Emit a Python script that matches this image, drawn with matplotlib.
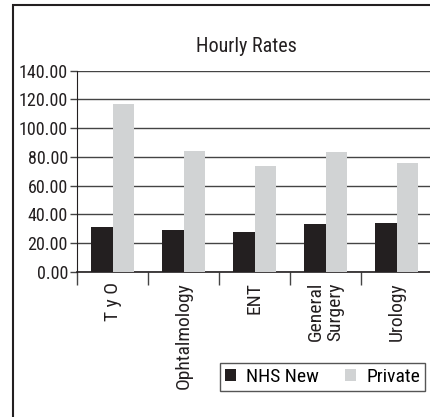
import matplotlib
matplotlib.use("Agg")
import matplotlib.pyplot as plt
import numpy as np
from matplotlib.patches import Rectangle

categories = ["T y O", "Ophtalmology", "ENT", "General\nSurgery", "Urology"]
nhs_new = [31.3, 29.2, 27.8, 33.3, 34.0]
private = [116.7, 84.2, 73.6, 83.3, 75.7]
yticks = [0, 20, 40, 60, 80, 100, 120, 140]

FONT = ["Roboto Condensed", "Archivo Narrow", "DejaVu Sans"]
plt.rcParams["font.family"] = FONT

W, H = 430, 417
fig = plt.figure(figsize=(W / 100, H / 100), dpi=100)
ax = fig.add_axes([77 / W, (H - 272) / H, 355 / W, (272 - 70.7) / H])

x = np.arange(len(categories))
bw = 0.296
ax.bar(x - bw / 2, nhs_new, bw, color="#231f20", label="NHS New", zorder=3)
ax.bar(x + bw / 2, private, bw, color="#d1d3d4", label="Private", zorder=3)

ax.set_xlim(-0.5, len(categories) - 0.5)
ax.set_ylim(0, 140)
ax.set_yticks(yticks)
ax.set_yticklabels([f"{v:.2f}" for v in yticks], fontsize=13, color="#231f20")
ax.yaxis.grid(True, color="#444444", linewidth=1, zorder=0)
ax.set_axisbelow(True)

ax.set_xticks(np.arange(len(categories) + 1) - 0.5)
ax.set_xticklabels([])
ax.tick_params(axis="x", length=9, width=1, color="#444444")
ax.tick_params(axis="y", length=5, width=1, color="#444444", pad=1.5)
for i, c in enumerate(categories):
    ax.text(i, -0.05, c, transform=ax.get_xaxis_transform(), rotation=90,
            ha="center", va="top", fontsize=14, color="#231f20",
            multialignment="center", linespacing=1.05)

for s in ["top", "right"]:
    ax.spines[s].set_visible(False)
ax.spines["left"].set_color("#231f20")
ax.spines["bottom"].set_color("#231f20")
ax.spines["bottom"].set_linewidth(1.2)

fig.text(246 / W, 1 - 46 / H, "Hourly Rates", ha="center", va="center",
         fontsize=14.5, color="#231f20")

leg = fig.legend(loc="center", bbox_to_anchor=(322.5 / W, 1 - 377 / H),
                 bbox_transform=fig.transFigure, ncol=2, fancybox=False,
                 edgecolor="#555555", fontsize=14, handlelength=0.57,
                 handleheight=0.57, handletextpad=0.55, columnspacing=1.3,
                 borderpad=0.25, framealpha=1)
leg.get_frame().set_linewidth(1)

fig.patches.append(Rectangle((13 / W, -0.1), 1.2, 1 - 5 / H + 0.1,
                             transform=fig.transFigure, fill=False,
                             edgecolor="#231f20", linewidth=1.5))

fig.savefig("out.png", dpi=100)
